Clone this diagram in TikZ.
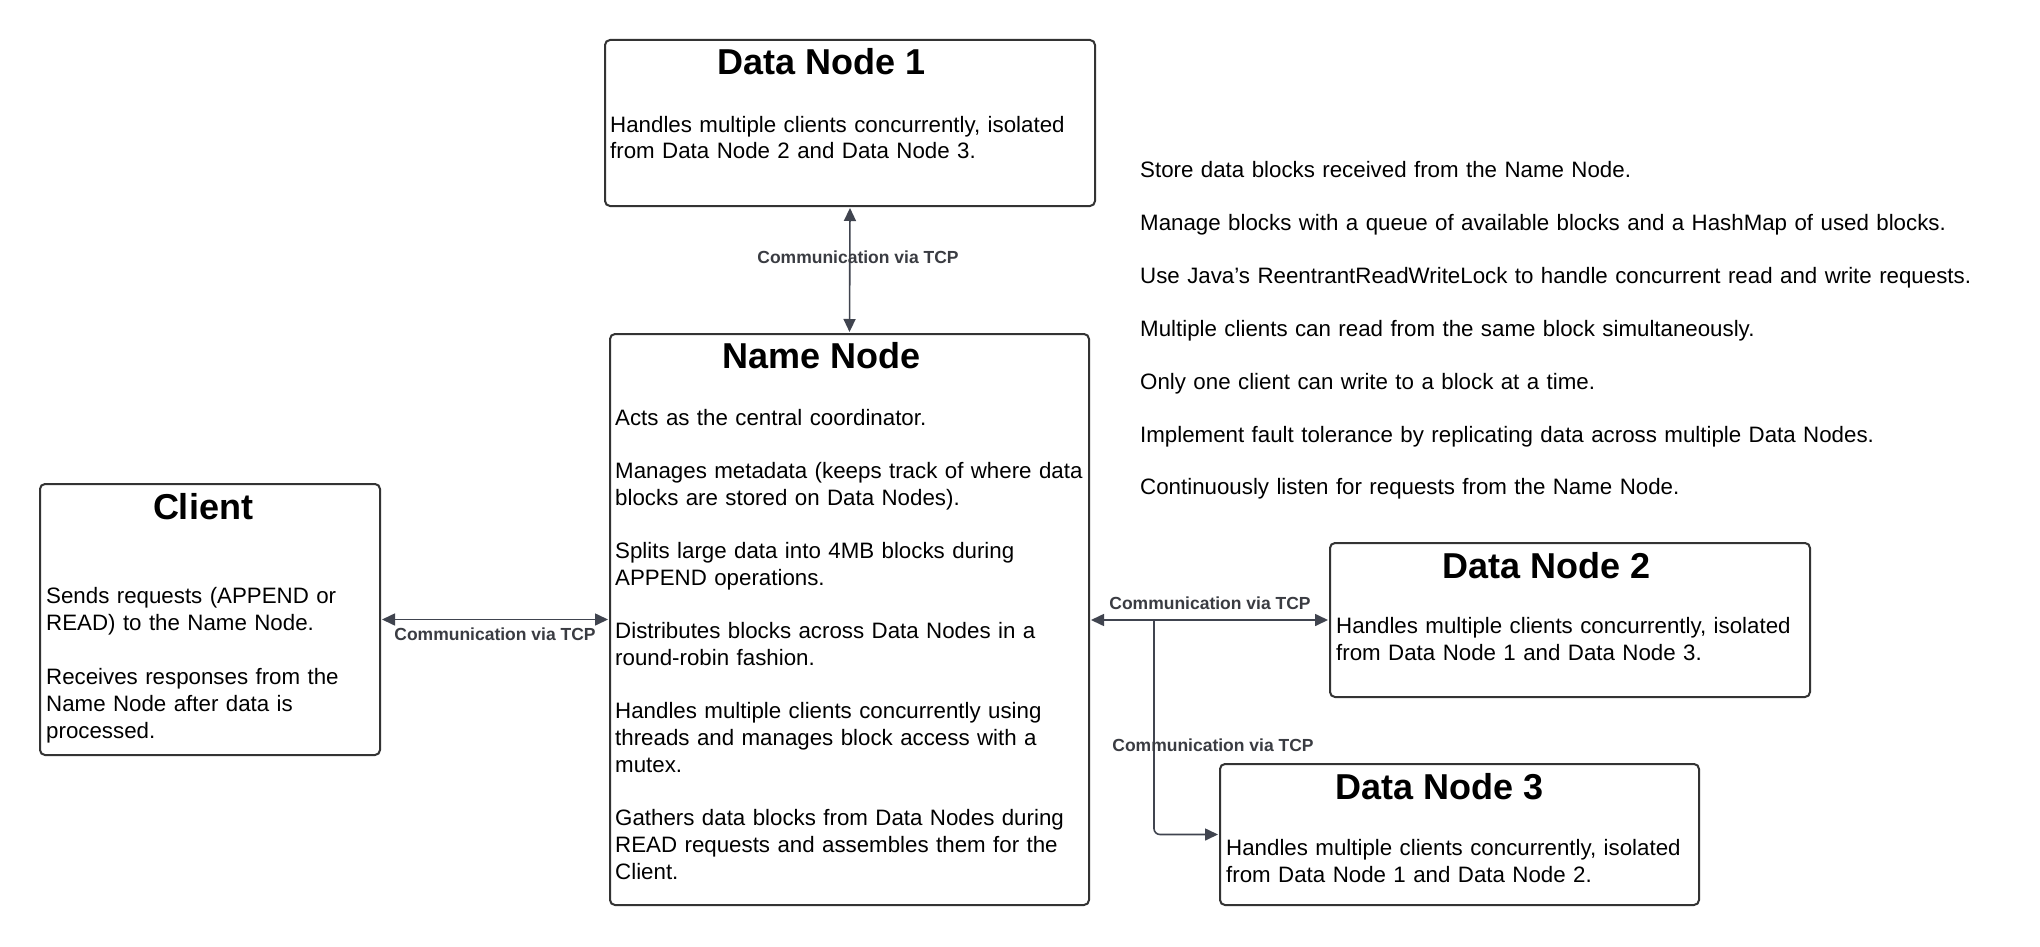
\documentclass[tikz,border=0pt]{standalone}
\usepackage{fontspec}
\setmainfont{Liberation Sans}
\usetikzlibrary{arrows.meta}
\definecolor{boxline}{HTML}{333333}
\definecolor{connc}{HTML}{40444F}
\definecolor{lblc}{HTML}{3A3C42}
\tikzset{
  box/.style={draw=boxline, line width=2pt, rounded corners=5pt, anchor=north west, inner sep=0pt, outer sep=0pt},
  ttl/.style={font=\fontsize{36}{40}\selectfont\bfseries, anchor=base, inner sep=0pt},
  body/.style={font=\fontsize{22.3}{27}\selectfont, anchor=base west, inner sep=0pt, text width=#1, align=left},
  body/.default=520pt,
  lab/.style={font=\fontsize{17.5}{20}\selectfont\bfseries, text=lblc, inner sep=0pt},
  link/.style={draw=connc, line width=1.6pt, {Triangle[length=13pt,width=12pt]}-{Triangle[length=13pt,width=12pt]}, shorten <=2pt, shorten >=2pt},
  branch/.style={draw=connc, line width=1.6pt, rounded corners=6pt, -{Triangle[length=13pt,width=12pt]}, shorten >=2pt},
}
\begin{document}
\begin{tikzpicture}[x=1pt, y=-1pt]
\useasboundingbox[fill=white] (0,0) rectangle (2040,947);

% boxes
\node[box, minimum width=490pt, minimum height=166pt] (dn1) at (605,40) {};
\node[box, minimum width=479pt, minimum height=571pt] (nn) at (610,334) {};
\node[box, minimum width=340pt, minimum height=271pt] (client) at (40,484) {};
\node[box, minimum width=480pt, minimum height=154pt] (dn2) at (1330,543) {};
\node[box, minimum width=479pt, minimum height=141pt] (dn3) at (1220,764) {};

% titles
\node[ttl] (dn1t) at (822,75) {Data Node 1};
\node[ttl] (nnt) at (822,368) {Name Node};
\node[ttl] (clt) at (203,519) {Client};
\node[ttl] (dn2t) at (1547,578) {Data Node 2};
\node[ttl] (dn3t) at (1440,799) {Data Node 3};

% bodies
\node[body] (dn1b) at (610,132) {Handles multiple clients concurrently, isolated\\from Data Node 2 and Data Node 3.};
\node[body] (nnb) at (615,425) {Acts as the central coordinator.\\[26pt]
Manages metadata (keeps track of where data\\blocks are stored on Data Nodes).\\[26pt]
Splits large data into 4MB blocks during\\APPEND operations.\\[26pt]
Distributes blocks across Data Nodes in a\\round-robin fashion.\\[26pt]
Handles multiple clients concurrently using\\threads and manages block access with a\\mutex.\\[26pt]
Gathers data blocks from Data Nodes during\\READ requests and assembles them for the\\Client.};
\node[body] (clb) at (46,603) {Sends requests (APPEND or\\READ) to the Name Node.\\[27pt]
Receives responses from the\\Name Node after data is\\processed.};
\node[body] (dn2b) at (1336,633) {Handles multiple clients concurrently, isolated\\from Data Node 1 and Data Node 3.};
\node[body] (dn3b) at (1226,855) {Handles multiple clients concurrently, isolated\\from Data Node 1 and Data Node 2.};
\node[body=900pt] (notes) at (1140,178) {Store data blocks received from the Name Node.\\[25.8pt]
Manage blocks with a queue of available blocks and a HashMap of used blocks.\\[25.8pt]
Use Java’s ReentrantReadWriteLock to handle concurrent read and write requests.\\[25.8pt]
Multiple clients can read from the same block simultaneously.\\[25.8pt]
Only one client can write to a block at a time.\\[25.8pt]
Implement fault tolerance by replicating data across multiple Data Nodes.\\[25.8pt]
Continuously listen for requests from the Name Node.};

% connectors
\draw[link] (dn1.south) -- (nn.north);
\draw[link] (client.east) -- (nn.west |- client.east);
\draw[link] (nn.east |- dn2.west) -- (dn2.west);
\coordinate (jn) at (1154,620);
\draw[branch] (jn) |- (dn3.west);

% labels
\node[lab] (l1) at (858,257) {Communication via TCP};
\node[lab] (l2) at (495,634) {Communication via TCP};
\node[lab] (l3) at (1210,603) {Communication via TCP};
\node[lab] (l4) at (1213,745) {Communication via TCP};
\end{tikzpicture}
\end{document}
